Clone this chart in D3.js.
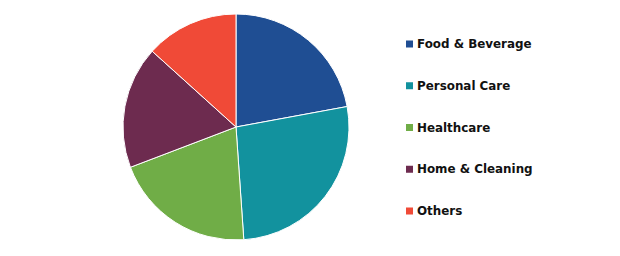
<!DOCTYPE html>
<html>
<head>
<meta charset="utf-8">
<script src="https://cdn.jsdelivr.net/npm/d3@7"></script>
<style>
  body { margin: 0; background: #fff; }
  .legend text { font-family: Verdana, "DejaVu Sans", sans-serif; font-weight: bold; font-size: 11.9px; fill: #111; }
</style>
</head>
<body>
<div id="chart"></div>
<script>
const categories = ["Food & Beverage", "Personal Care", "Healthcare", "Home & Cleaning", "Others"];
const shares = [22.1, 26.8, 20.3, 17.5, 13.3];
const colors = ["#1f4e93", "#12929e", "#70ad47", "#6d2b4f", "#f04a37"];

const size = { width: 620, height: 256 };
const center = { x: 236, y: 127 };
const radius = 113;

const svg = d3
  .select("#chart")
  .append("svg")
  .attr("width", size.width)
  .attr("height", size.height);

const data = categories.map((name, i) => ({ name, value: shares[i] }));

const pie = d3.pie().value((d) => d.value).sort(null);
const arc = d3.arc().innerRadius(0).outerRadius(radius);
const color = d3.scaleOrdinal().domain(categories).range(colors);

svg
  .append("g")
  .attr("transform", `translate(${center.x},${center.y})`)
  .selectAll("path")
  .data(pie(data))
  .join("path")
  .attr("d", arc)
  .attr("fill", (d) => color(d.data.name))
  .attr("stroke", "#fff")
  .attr("stroke-width", 1);

// legend
const rowY = d3.scalePoint().domain(categories).range([44, 211]);

const legend = svg
  .append("g")
  .attr("class", "legend")
  .selectAll("g")
  .data(categories)
  .join("g")
  .attr("transform", (d) => `translate(406,${rowY(d)})`);

legend
  .append("rect")
  .attr("x", 0)
  .attr("y", -3.5)
  .attr("width", 7)
  .attr("height", 7)
  .attr("fill", (d) => color(d));

legend
  .append("text")
  .attr("x", 11)
  .attr("y", 4)
  .text((d) => d);
</script>
</body>
</html>
